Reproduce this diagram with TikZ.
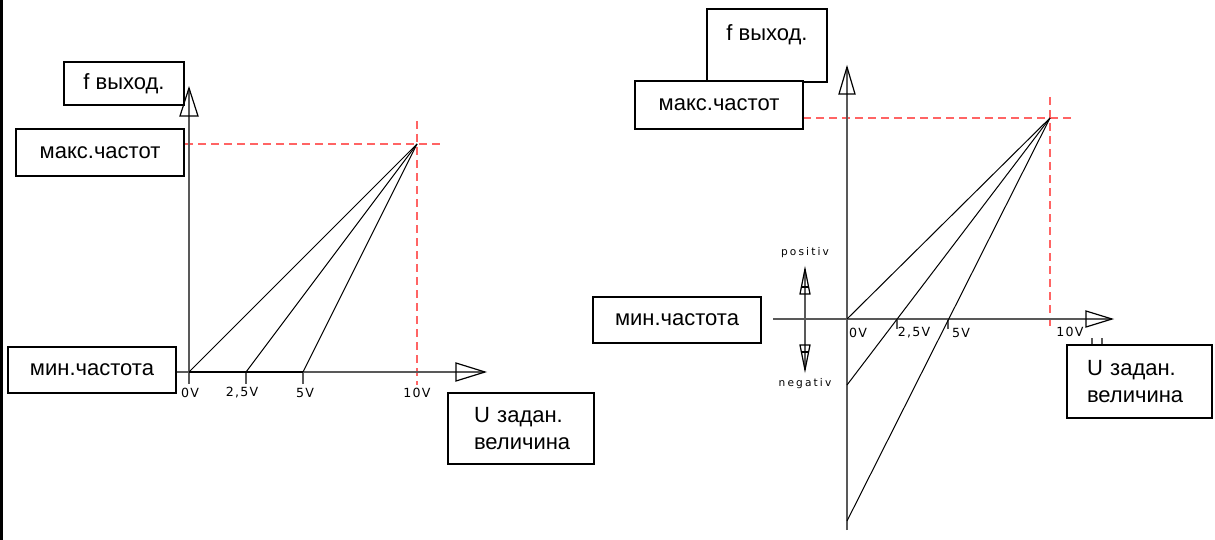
\documentclass[tikz,border=0pt]{standalone}
\usepackage{fontspec}
\setmainfont{Liberation Sans}
\newfontfamily\plotfont[LetterSpace=10]{DejaVu Sans}
\newfontfamily\plotfontw[LetterSpace=20]{DejaVu Sans}
\definecolor{guidered}{RGB}{255,100,100}
\begin{document}
\begin{tikzpicture}[x=0.5pt,y=-0.5pt,
  box/.style={draw, line width=0.9pt, fill=white, inner sep=0pt, font=\fontsize{11}{13.5}\selectfont, align=center},
  axis/.style={draw=black!65, line width=0.6pt},
  graph/.style={line width=0.5pt},
  guide/.style={draw=guidered, dash pattern=on 4pt off 2.5pt, line width=0.7pt},
  tri/.style={draw=black, line width=0.6pt},
  vlabel/.style={font=\plotfont\fontsize{6.3}{7}\selectfont, inner sep=0pt},
  slabel/.style={font=\plotfontw\fontsize{5.3}{6}\selectfont, inner sep=0pt}]
\useasboundingbox (0,0) rectangle (1215,540);
\fill[black] (0,0) rectangle (3,540);

% ---------- left diagram ----------
\coordinate (O1) at (189,372);
\coordinate (A1) at (246,372);
\coordinate (B1) at (303,372);
\coordinate (P1) at (417,144);
\coordinate (Y1) at (189,88);
\coordinate (X1) at (485,372);

\node[box, minimum width=84pt, minimum height=23pt] (min1) at (92,370) {мин.частота};
\node[box, minimum width=73pt, minimum height=35.5pt, text width=47pt, align=left] (U1) at (521,428.5) {U задан.\\величина};

\draw[guide] (185,144) -- (440,144);
\draw[guide] (417,121) -- (417,385);

\draw[axis] (O1) -- (Y1);
\draw[tri] (Y1) -- (180,116) -- (198,116) -- cycle;
\draw[axis] (min1.east |- O1) -- (X1);
\draw[tri] (X1) -- (456,363) -- (456,381) -- cycle;
\foreach \p in {O1,A1,B1} \draw[axis] (\p) -- ++(0,12);
\draw[line width=1pt] (O1) -- (B1);
\draw[graph] (O1) -- (P1);
\draw[graph] (A1) -- (P1);
\draw[graph] (B1) -- (P1);

\node[vlabel] (l0a) at (190,393) {0V};
\node[vlabel] (l25a) at (242,393) {2,5V};
\node[vlabel] (l5a) at (305,393) {5V};
\node[vlabel] (l10a) at (417,393) {10V};

\node[box, minimum width=60pt, minimum height=21.5pt] (fout1) at (124,83.5) {f выход.};
\node[box, minimum width=84pt, minimum height=23.5pt] (max1) at (100,152.5) {макс.частот};

% ---------- right diagram ----------
\coordinate (O2) at (847,319);
\coordinate (A2) at (897,319);
\coordinate (B2) at (948,319);
\coordinate (P2) at (1050,118);
\coordinate (N1) at (847,385);
\coordinate (N2) at (847,521);
\coordinate (Y2) at (847,67);
\coordinate (Y2b) at (847,530);
\coordinate (X2) at (1112,319);

\node[box, minimum width=84pt, minimum height=23pt] (min2) at (677,320) {мин.частота};

\draw[guide] (803,118) -- (1072,118);
\draw[guide] (1050,97) -- (1050,330);

\draw[axis] (Y2b) -- (Y2);
\draw[tri] (Y2) -- (839,94) -- (855,94) -- cycle;
\draw[axis] (773,319) -- (X2);
\draw[tri] (X2) -- (1086,311) -- (1086,327) -- cycle;
\foreach \p in {A2,B2} \draw[axis] (\p) -- ++(0,10);
\draw[graph] (O2) -- (P2);
\draw[graph] (N1) -- (P2);
\draw[graph] (N2) -- (P2);

\node[vlabel] (l0b) at (858,333) {0V};
\node[vlabel] (l25b) at (914,333) {2,5V};
\node[vlabel] (l5b) at (961,333) {5V};
\node[vlabel] (l10b) at (1070,332) {10V};

% positiv / negativ sign arrows
\coordinate (Sp) at (805,269);
\coordinate (Sn) at (805,370);
\draw[axis] (Sp) -- (Sn);
\draw[tri] (Sp) -- (800,294) -- (810,294) -- cycle;
\draw[tri] (801,287) -- (809,287);
\draw[tri] (Sn) -- (800,345) -- (810,345) -- cycle;
\draw[tri] (801,352) -- (809,352);
\node[slabel] (pos) at (805,253) {positiv};
\node[slabel] (neg) at (805,384) {negativ};

\draw[axis] (1092,338) -- (1092,345);
\draw[axis] (1102,338) -- (1102,345);
\node[box, minimum width=72.5pt, minimum height=36.5pt, text width=52.5pt, align=left] (U2) at (1139.5,381.5) {U задан.\\величина};

\node[box, minimum width=60pt, minimum height=36.5pt] (fout2) at (767,45.5) {f выход.\\[-1pt]~};
\node[box, minimum width=84pt, minimum height=24pt] (max2) at (719,105) {макс.частот};
\end{tikzpicture}
\end{document}
